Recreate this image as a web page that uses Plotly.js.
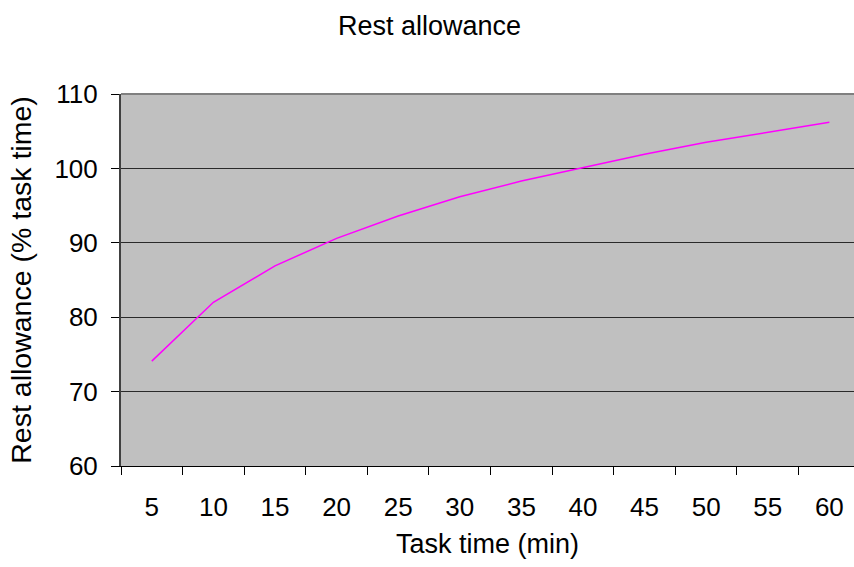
<!DOCTYPE html>
<html>
<head>
<meta charset="utf-8">
<script src="https://cdn.plot.ly/plotly-3.0.1.min.js"></script>
<style>html,body{margin:0;padding:0;background:#fff;}#chart{width:854px;height:567px;}</style>
</head>
<body>
<div id="chart"></div>
<script>
const taskTimes = ["5","10","15","20","25","30","35","40","45","50","55","60"];
const restAllowance = [74.1, 82.0, 86.9, 90.6, 93.6, 96.2, 98.3, 100.1, 101.9, 103.5, 104.9, 106.2];
const yTicks = [60, 70, 80, 90, 100, 110];

const FONT = "Liberation Sans, Arial, sans-serif";

const trace = {
  type: "scatter",
  mode: "lines",
  x: taskTimes,
  y: restAllowance,
  line: {color: "#FF00FF", width: 1.5},
  hoverinfo: "skip"
};

const layout = {
  width: 854,
  height: 567,
  margin: {l: 121, r: 0, t: 94, b: 101},
  paper_bgcolor: "#FFFFFF",
  plot_bgcolor: "#C0C0C0",
  showlegend: false,
  font: {family: FONT, color: "#000000", size: 26},
  title: {
    text: "Rest allowance",
    font: {family: FONT, size: 27, color: "#000"},
    xref: "container", x: 0.503, xanchor: "center",
    yref: "container", y: 0.955, yanchor: "middle"
  },
  xaxis: {
    type: "category",
    categoryorder: "array",
    categoryarray: taskTimes,
    range: [-0.5, 11.4],
    tickson: "boundaries",
    ticks: "outside",
    ticklen: 8,
    tickwidth: 1,
    tickcolor: "#000",
    showgrid: false,
    showline: true,
    linecolor: "#000",
    linewidth: 1,
    zeroline: false,
    tickfont: {family: FONT, size: 26, color: "#000"},
    ticklabelstandoff: 18,
    title: {text: "Task time (min)", font: {family: FONT, size: 27, color: "#000"}, standoff: 12}
  },
  yaxis: {
    range: [60, 110],
    tickvals: yTicks,
    ticks: "outside",
    ticklen: 8,
    tickwidth: 1,
    tickcolor: "#000",
    showgrid: true,
    gridcolor: "#2a2a2a",
    gridwidth: 1,
    showline: true,
    linecolor: "#404040",
    linewidth: 2,
    zeroline: false,
    tickfont: {family: FONT, size: 26, color: "#000"},
    ticklabelstandoff: 8,
    title: {text: "Rest allowance (% task time)", font: {family: FONT, size: 28.5, color: "#000"}, standoff: 14}
  },
  shapes: [{
    type: "line", xref: "paper", yref: "paper",
    x0: 0, x1: 1, y0: 1, y1: 1,
    line: {color: "#808080", width: 2}, layer: "above"
  }]
};

Plotly.newPlot("chart", [trace], layout, {staticPlot: true, displayModeBar: false});
</script>
</body>
</html>
